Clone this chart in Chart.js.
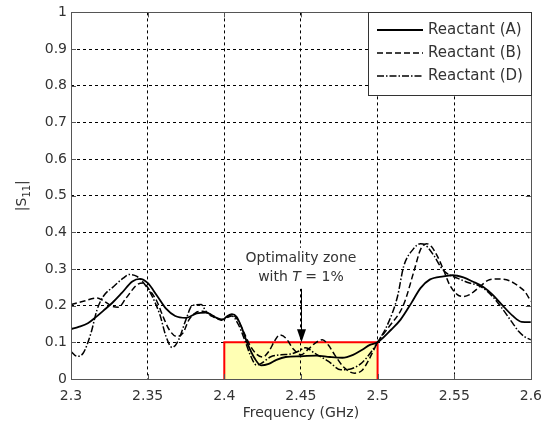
<!DOCTYPE html>
<html>
<head>
<meta charset="utf-8">
<script src="https://cdn.jsdelivr.net/npm/chart.js@4.4.1/dist/chart.umd.min.js"></script>
<style>
  html, body { margin: 0; padding: 0; background: #fff; }
  #wrap { width: 551px; height: 428px; }
</style>
</head>
<body>
<div id="wrap"><canvas id="s11Chart"></canvas></div>
<script>
// Reactant (A) - solid
const freqA = [2.300, 2.305, 2.311, 2.316, 2.321, 2.327, 2.333, 2.340, 2.345, 2.350, 2.356, 2.362, 2.368, 2.375, 2.382, 2.388,
  2.395, 2.399, 2.402, 2.405, 2.408, 2.411, 2.415, 2.420, 2.424, 2.429, 2.434, 2.440, 2.450, 2.460, 2.469, 2.477, 2.484, 2.490,
  2.495, 2.500, 2.509, 2.515, 2.522, 2.528, 2.534, 2.543, 2.549, 2.556, 2.562, 2.569, 2.575, 2.581, 2.588, 2.594, 2.600];
const s11A = [0.136, 0.142, 0.152, 0.168, 0.186, 0.208, 0.234, 0.266, 0.273, 0.262, 0.228, 0.192, 0.172, 0.167, 0.179, 0.181,
  0.167, 0.162, 0.172, 0.177, 0.170, 0.144, 0.098, 0.055, 0.037, 0.041, 0.052, 0.060, 0.062, 0.064, 0.060, 0.058, 0.066, 0.080,
  0.093, 0.100, 0.135, 0.162, 0.207, 0.248, 0.271, 0.280, 0.283, 0.277, 0.266, 0.251, 0.230, 0.203, 0.173, 0.156, 0.155];

// Reactant (B) - dashed
const freqB = [2.300, 2.308, 2.317, 2.321, 2.327, 2.331, 2.336, 2.343, 2.347, 2.351, 2.356, 2.360, 2.364, 2.369, 2.373, 2.377,
  2.381, 2.386, 2.392, 2.398, 2.402, 2.405, 2.409, 2.413, 2.417, 2.421, 2.425, 2.429, 2.433, 2.436, 2.440, 2.445, 2.450, 2.455,
  2.460, 2.464, 2.468, 2.472, 2.478, 2.485, 2.490, 2.494, 2.497, 2.500, 2.507, 2.517, 2.524, 2.528, 2.532, 2.535, 2.539, 2.543,
  2.547, 2.552, 2.556, 2.560, 2.567, 2.573, 2.579, 2.586, 2.592, 2.596, 2.600];
const s11B = [0.203, 0.212, 0.221, 0.214, 0.198, 0.196, 0.221, 0.257, 0.262, 0.244, 0.212, 0.171, 0.135, 0.116, 0.125, 0.162,
  0.180, 0.185, 0.171, 0.162, 0.170, 0.175, 0.160, 0.125, 0.090, 0.068, 0.060, 0.075, 0.105, 0.120, 0.112, 0.082, 0.066, 0.082,
  0.100, 0.107, 0.092, 0.066, 0.032, 0.016, 0.024, 0.050, 0.075, 0.100, 0.140, 0.203, 0.298, 0.353, 0.369, 0.362, 0.335, 0.298,
  0.257, 0.230, 0.225, 0.230, 0.253, 0.271, 0.273, 0.268, 0.253, 0.239, 0.212];

// Reactant (D) - dash-dot
const freqD = [2.300, 2.304, 2.308, 2.313, 2.317, 2.321, 2.328, 2.334, 2.338, 2.343, 2.349, 2.353, 2.358, 2.362, 2.366, 2.370,
  2.375, 2.379, 2.385, 2.388, 2.393, 2.398, 2.402, 2.405, 2.409, 2.413, 2.417, 2.421, 2.425, 2.430, 2.437, 2.443, 2.448, 2.453,
  2.459, 2.468, 2.476, 2.483, 2.490, 2.496, 2.500, 2.507, 2.513, 2.517, 2.523, 2.528, 2.531, 2.537, 2.541, 2.545, 2.552, 2.560,
  2.567, 2.575, 2.581, 2.588, 2.592, 2.596, 2.600];
const s11D = [0.075, 0.062, 0.071, 0.125, 0.189, 0.225, 0.253, 0.275, 0.285, 0.280, 0.253, 0.225, 0.175, 0.116, 0.086, 0.105,
  0.162, 0.200, 0.203, 0.185, 0.172, 0.160, 0.168, 0.172, 0.150, 0.110, 0.065, 0.038, 0.045, 0.060, 0.066, 0.068, 0.075, 0.085,
  0.070, 0.048, 0.025, 0.028, 0.045, 0.075, 0.100, 0.153, 0.225, 0.307, 0.353, 0.369, 0.366, 0.335, 0.307, 0.289, 0.275, 0.262,
  0.253, 0.225, 0.194, 0.153, 0.130, 0.115, 0.107];

const seriesNames = ['Reactant (A)', 'Reactant (B)', 'Reactant (D)'];

const xTicks = [2.3, 2.35, 2.4, 2.45, 2.5, 2.55, 2.6];
const xTickLabels = ['2.3', '2.35', '2.4', '2.45', '2.5', '2.55', '2.6'];
const yTicks = [0, 0.1, 0.2, 0.3, 0.4, 0.5, 0.6, 0.7, 0.8, 0.9, 1];
const yTickLabels = ['0', '0.1', '0.2', '0.3', '0.4', '0.5', '0.6', '0.7', '0.8', '0.9', '1'];

// optimality zone and its note
const zoneFreq = [2.4, 2.5];
const zoneLevel = [0, 0.1];
const noteFreq = 2.45;
const noteLevels = [0.328, 0.276];
const arrowLevels = [0.246, 0.1];

const FONT = 'DejaVu Sans';
const INK = '#333';
Chart.defaults.font.family = FONT;
Chart.defaults.font.size = 14;
Chart.defaults.color = INK;

const dashes = [[], [6, 3], [7, 2, 1.5, 2]];

function pts(xs, ys) {
    return xs.map((x, i) => ({ x: x, y: ys[i] }));
}

function makeSet(i, xs, ys) {
    return {
        label: seriesNames[i],
        data: pts(xs, ys),
        borderColor: '#000',
        borderWidth: i === 0 ? 1.8 : 1.5,
        borderDash: dashes[i],
        pointRadius: 0,
        fill: false,
        cubicInterpolationMode: 'monotone'
    };
}

// grid lines on the frame edges are hidden, the frame is drawn on its own
function gridColor(count) {
    return ctx => (ctx.index === 0 || ctx.index === count - 1) ? 'rgba(0,0,0,0)' : '#000';
}

const zonePlugin = {
    id: 'zone',
    beforeDraw(chart) {
        const { ctx, scales: { x, y } } = chart;
        const l = x.getPixelForValue(zoneFreq[0]), r = x.getPixelForValue(zoneFreq[1]);
        const t = y.getPixelForValue(zoneLevel[1]), b = y.getPixelForValue(zoneLevel[0]);
        ctx.save();
        ctx.fillStyle = '#ffffb4';
        ctx.fillRect(l, t, r - l, b - t);
        ctx.restore();
    },
    beforeDatasetsDraw(chart) {
        const { ctx, scales: { x, y } } = chart;
        const l = x.getPixelForValue(zoneFreq[0]), r = x.getPixelForValue(zoneFreq[1]);
        const t = y.getPixelForValue(zoneLevel[1]), b = y.getPixelForValue(zoneLevel[0]);
        ctx.save();
        ctx.strokeStyle = '#ff0000';
        ctx.lineWidth = 2;
        ctx.beginPath();
        ctx.moveTo(l, b);
        ctx.lineTo(l, t);
        ctx.lineTo(r, t);
        ctx.lineTo(r, b);
        ctx.stroke();
        ctx.restore();
    }
};

const framePlugin = {
    id: 'frame',
    afterDraw(chart) {
        const { ctx, chartArea: a, scales: { x, y } } = chart;
        ctx.save();

        // box and inward ticks
        ctx.strokeStyle = '#555';
        ctx.lineWidth = 1;
        ctx.strokeRect(Math.round(a.left) + 0.5, Math.round(a.top) + 0.5,
            Math.round(a.right - a.left), Math.round(a.bottom - a.top));
        ctx.beginPath();
        xTicks.forEach(v => {
            const px = Math.round(x.getPixelForValue(v)) + 0.5;
            ctx.moveTo(px, a.bottom); ctx.lineTo(px, a.bottom - 5);
            ctx.moveTo(px, a.top); ctx.lineTo(px, a.top + 5);
        });
        yTicks.forEach(v => {
            const py = Math.round(y.getPixelForValue(v)) + 0.5;
            ctx.moveTo(a.left, py); ctx.lineTo(a.left + 5, py);
            ctx.moveTo(a.right, py); ctx.lineTo(a.right - 5, py);
        });
        ctx.stroke();

        // legend
        const lx = 368, ly = Math.round(a.top) + 0.5, lw = Math.round(a.right) - lx, lh = 83;
        ctx.fillStyle = '#fff';
        ctx.fillRect(lx, ly, lw, lh);
        ctx.strokeStyle = '#333';
        ctx.strokeRect(lx + 0.5, ly, lw, lh);
        ctx.font = '15px ' + FONT;
        ctx.textBaseline = 'middle';
        ctx.textAlign = 'left';
        chart.data.datasets.forEach((ds, i) => {
            const ry = 30 + i * 23;
            ctx.strokeStyle = '#000';
            ctx.lineWidth = ds.borderWidth;
            ctx.setLineDash(ds.borderDash);
            ctx.beginPath();
            ctx.moveTo(377, ry);
            ctx.lineTo(423, ry);
            ctx.stroke();
            ctx.setLineDash([]);
            ctx.fillStyle = INK;
            ctx.fillText(ds.label, 428, ry);
        });

        // note (on a white patch that hides the grid) and arrow
        const nx = x.getPixelForValue(noteFreq);
        const ny1 = y.getPixelForValue(noteLevels[0]), ny2 = y.getPixelForValue(noteLevels[1]);
        ctx.font = '14px ' + FONT;
        const boxW = ctx.measureText('Optimality zone').width + 6;
        const aTop = y.getPixelForValue(arrowLevels[0]), aTip = y.getPixelForValue(arrowLevels[1]);
        ctx.fillStyle = '#fff';
        ctx.fillRect(nx - boxW / 2, ny1 - 11, boxW, aTop - (ny1 - 11));

        ctx.fillStyle = INK;
        ctx.textAlign = 'center';
        ctx.fillText('Optimality zone', nx, ny1);
        const p1 = 'with ', p2 = 'T', p3 = ' = 1%';
        const w1 = ctx.measureText(p1).width, w3 = ctx.measureText(p3).width;
        ctx.font = 'italic 14px ' + FONT;
        const w2 = ctx.measureText(p2).width;
        const sx = nx - (w1 + w2 + w3) / 2;
        ctx.textAlign = 'left';
        ctx.font = '14px ' + FONT;
        ctx.fillText(p1, sx, ny2);
        ctx.font = 'italic 14px ' + FONT;
        ctx.fillText(p2, sx + w1, ny2);
        ctx.font = '14px ' + FONT;
        ctx.fillText(p3, sx + w1 + w2, ny2);

        const ax = Math.round(nx) + 0.5;
        ctx.strokeStyle = '#000';
        ctx.lineWidth = 1;
        ctx.beginPath();
        ctx.moveTo(ax, aTop);
        ctx.lineTo(ax, aTip - 10);
        ctx.stroke();
        ctx.fillStyle = '#000';
        ctx.beginPath();
        ctx.moveTo(ax, aTip);
        ctx.lineTo(ax - 4.5, aTip - 13);
        ctx.lineTo(ax + 4.5, aTip - 13);
        ctx.closePath();
        ctx.fill();

        // axis titles
        ctx.fillStyle = INK;
        ctx.textAlign = 'center';
        ctx.textBaseline = 'middle';
        ctx.font = '14px ' + FONT;
        ctx.fillText('Frequency (GHz)', (a.left + a.right) / 2, 413);

        ctx.translate(22, (a.top + a.bottom) / 2);
        ctx.rotate(-Math.PI / 2);
        ctx.font = '14px ' + FONT;
        const t1 = '|S', t3 = '|';
        const tw1 = ctx.measureText(t1).width, tw3 = ctx.measureText(t3).width;
        ctx.font = '10px ' + FONT;
        const tw2 = ctx.measureText('11').width;
        const tx = -(tw1 + tw2 + tw3) / 2;
        ctx.textAlign = 'left';
        ctx.font = '14px ' + FONT;
        ctx.fillText(t1, tx, 0);
        ctx.font = '10px ' + FONT;
        ctx.fillText('11', tx + tw1, 5);
        ctx.font = '14px ' + FONT;
        ctx.fillText(t3, tx + tw1 + tw2, 0);

        ctx.restore();
    }
};

const ctxS11 = document.getElementById('s11Chart').getContext('2d');
const s11Chart = new Chart(ctxS11, {
    type: 'line',
    data: {
        datasets: [
            makeSet(0, freqA, s11A),
            makeSet(1, freqB, s11B),
            makeSet(2, freqD, s11D)
        ]
    },
    options: {
        responsive: true,
        maintainAspectRatio: false,
        animation: false,
        layout: { padding: { top: 12, right: 12, left: 0, bottom: 0 } },
        plugins: {
            legend: { display: false },
            tooltip: { enabled: false }
        },
        scales: {
            x: {
                type: 'linear',
                min: 2.3,
                max: 2.6,
                afterBuildTicks: s => { s.ticks = xTicks.map(v => ({ value: v })); },
                afterFit: s => { s.height = 49; },
                ticks: {
                    callback: (v, i) => xTickLabels[i],
                    padding: 9,
                    maxRotation: 0,
                    autoSkip: false,
                    color: INK
                },
                grid: { color: gridColor(xTicks.length), drawTicks: false, lineWidth: 1, borderDash: [3, 3] },
                border: { display: false, dash: [3, 3] }
            },
            y: {
                min: 0,
                max: 1,
                afterBuildTicks: s => { s.ticks = yTicks.map(v => ({ value: v })); },
                afterFit: s => { s.width = 71; },
                ticks: {
                    callback: (v, i) => yTickLabels[i],
                    padding: 4,
                    autoSkip: false,
                    color: INK
                },
                grid: { color: gridColor(yTicks.length), drawTicks: false, lineWidth: 1, borderDash: [3, 3] },
                border: { display: false, dash: [3, 3] }
            }
        }
    },
    plugins: [zonePlugin, framePlugin]
});
</script>
</body>
</html>
